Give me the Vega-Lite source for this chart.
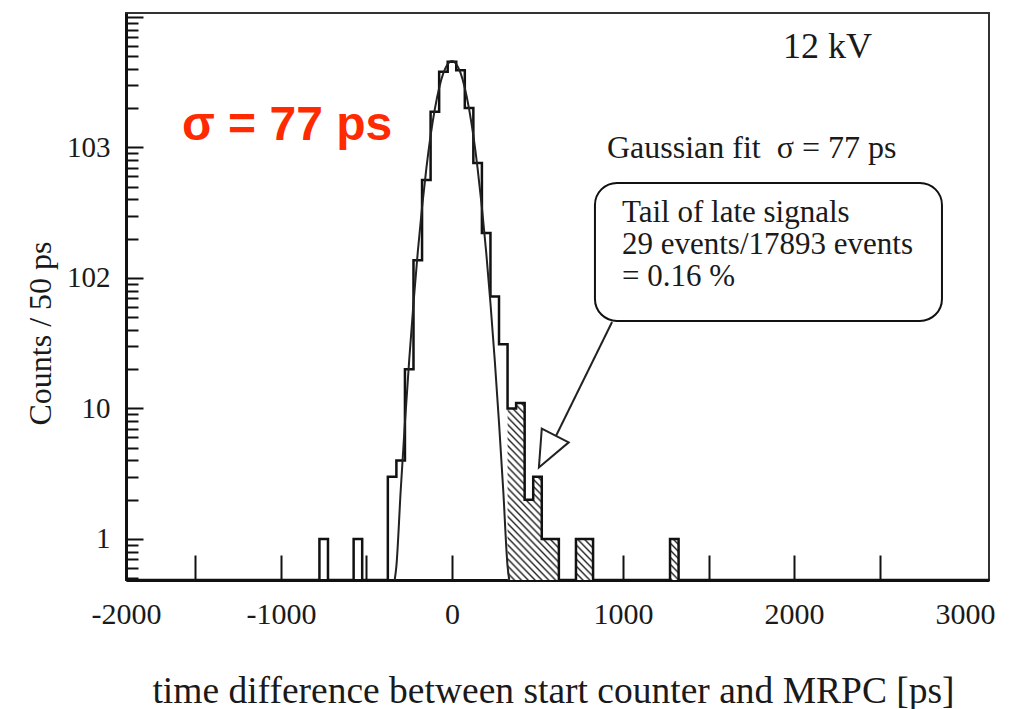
{
  "$schema": "https://vega.github.io/schema/vega-lite/v6.json",
  "autosize": "none",
  "padding": {"left": 126, "top": 13, "right": 21, "bottom": 129},
  "width": 863,
  "height": 567,
  "background": "white",
  "data": {"values": [{}]},
  "config": {"view": {"stroke": "#333", "strokeWidth": 2}, "font": "Liberation Serif"},
  "datasets": {
    "hist": [
      {"t": -1906, "count": 0}, {"t": -775, "count": 1}, {"t": -725, "count": 0},
      {"t": -575, "count": 1}, {"t": -525, "count": 0}, {"t": -375, "count": 3},
      {"t": -325, "count": 4}, {"t": -275, "count": 20}, {"t": -225, "count": 137},
      {"t": -175, "count": 564}, {"t": -125, "count": 1880}, {"t": -75, "count": 3810},
      {"t": -25, "count": 4540}, {"t": 25, "count": 3900}, {"t": 75, "count": 2010},
      {"t": 125, "count": 760}, {"t": 175, "count": 221}, {"t": 225, "count": 72},
      {"t": 275, "count": 31}, {"t": 325, "count": 10}, {"t": 375, "count": 11},
      {"t": 425, "count": 2}, {"t": 475, "count": 3}, {"t": 525, "count": 1},
      {"t": 575, "count": 1}, {"t": 625, "count": 0}, {"t": 725, "count": 1},
      {"t": 775, "count": 1}, {"t": 825, "count": 0}, {"t": 1275, "count": 1},
      {"t": 1325, "count": 0}, {"t": 3140, "count": 0}
    ],
    "tail": [
      {"t": 325, "count": 10}, {"t": 375, "count": 11}, {"t": 425, "count": 2},
      {"t": 475, "count": 3}, {"t": 525, "count": 1}, {"t": 575, "count": 1},
      {"t": 625, "count": 0}, {"t": 725, "count": 1}, {"t": 775, "count": 1},
      {"t": 825, "count": 0}, {"t": 1275, "count": 1}, {"t": 1325, "count": 0}
    ],
    "fit": [
      {"t": -335, "f": 0.42}, {"t": -325, "f": 0.62}, {"t": -300, "f": 2.33},
      {"t": -275, "f": 7.8}, {"t": -250, "f": 23.6}, {"t": -225, "f": 64},
      {"t": -200, "f": 158}, {"t": -175, "f": 348}, {"t": -150, "f": 690},
      {"t": -125, "f": 1232}, {"t": -100, "f": 1979}, {"t": -75, "f": 2862},
      {"t": -50, "f": 3726}, {"t": -25, "f": 4364}, {"t": 0, "f": 4600},
      {"t": 25, "f": 4364}, {"t": 50, "f": 3726}, {"t": 75, "f": 2862},
      {"t": 100, "f": 1979}, {"t": 125, "f": 1232}, {"t": 150, "f": 690},
      {"t": 175, "f": 348}, {"t": 200, "f": 158}, {"t": 225, "f": 64},
      {"t": 250, "f": 23.6}, {"t": 275, "f": 7.8}, {"t": 300, "f": 2.33},
      {"t": 325, "f": 0.62}, {"t": 335, "f": 0.42}
    ]
  },
  "layer": [
    {
      "data": {"name": "tail"},
      "mark": {
        "type": "area", "interpolate": "step-after", "invalid": "show",
        "fill": {
          "gradient": "linear", "x1": 0, "y1": 1, "x2": 1, "y2": 0,
          "stops": [
            {"offset": 0, "color": "#2a2a2a"}, {"offset": 0.006, "color": "#ffffff"}, {"offset": 0.014, "color": "#ffffff"},
            {"offset": 0.02, "color": "#2a2a2a"}, {"offset": 0.026, "color": "#ffffff"}, {"offset": 0.034, "color": "#ffffff"},
            {"offset": 0.04, "color": "#2a2a2a"}, {"offset": 0.046, "color": "#ffffff"}, {"offset": 0.054, "color": "#ffffff"},
            {"offset": 0.06, "color": "#2a2a2a"}, {"offset": 0.066, "color": "#ffffff"}, {"offset": 0.074, "color": "#ffffff"},
            {"offset": 0.08, "color": "#2a2a2a"}, {"offset": 0.086, "color": "#ffffff"}, {"offset": 0.094, "color": "#ffffff"},
            {"offset": 0.1, "color": "#2a2a2a"}, {"offset": 0.106, "color": "#ffffff"}, {"offset": 0.114, "color": "#ffffff"},
            {"offset": 0.12, "color": "#2a2a2a"}, {"offset": 0.126, "color": "#ffffff"}, {"offset": 0.134, "color": "#ffffff"},
            {"offset": 0.14, "color": "#2a2a2a"}, {"offset": 0.146, "color": "#ffffff"}, {"offset": 0.154, "color": "#ffffff"},
            {"offset": 0.16, "color": "#2a2a2a"}, {"offset": 0.166, "color": "#ffffff"}, {"offset": 0.174, "color": "#ffffff"},
            {"offset": 0.18, "color": "#2a2a2a"}, {"offset": 0.186, "color": "#ffffff"}, {"offset": 0.194, "color": "#ffffff"},
            {"offset": 0.2, "color": "#2a2a2a"}, {"offset": 0.206, "color": "#ffffff"}, {"offset": 0.214, "color": "#ffffff"},
            {"offset": 0.22, "color": "#2a2a2a"}, {"offset": 0.226, "color": "#ffffff"}, {"offset": 0.234, "color": "#ffffff"},
            {"offset": 0.24, "color": "#2a2a2a"}, {"offset": 0.246, "color": "#ffffff"}, {"offset": 0.254, "color": "#ffffff"},
            {"offset": 0.26, "color": "#2a2a2a"}, {"offset": 0.266, "color": "#ffffff"}, {"offset": 0.274, "color": "#ffffff"},
            {"offset": 0.28, "color": "#2a2a2a"}, {"offset": 0.286, "color": "#ffffff"}, {"offset": 0.294, "color": "#ffffff"},
            {"offset": 0.3, "color": "#2a2a2a"}, {"offset": 0.306, "color": "#ffffff"}, {"offset": 0.314, "color": "#ffffff"},
            {"offset": 0.32, "color": "#2a2a2a"}, {"offset": 0.326, "color": "#ffffff"}, {"offset": 0.334, "color": "#ffffff"},
            {"offset": 0.34, "color": "#2a2a2a"}, {"offset": 0.346, "color": "#ffffff"}, {"offset": 0.354, "color": "#ffffff"},
            {"offset": 0.36, "color": "#2a2a2a"}, {"offset": 0.366, "color": "#ffffff"}, {"offset": 0.374, "color": "#ffffff"},
            {"offset": 0.38, "color": "#2a2a2a"}, {"offset": 0.386, "color": "#ffffff"}, {"offset": 0.394, "color": "#ffffff"},
            {"offset": 0.4, "color": "#2a2a2a"}, {"offset": 0.406, "color": "#ffffff"}, {"offset": 0.414, "color": "#ffffff"},
            {"offset": 0.42, "color": "#2a2a2a"}, {"offset": 0.426, "color": "#ffffff"}, {"offset": 0.434, "color": "#ffffff"},
            {"offset": 0.44, "color": "#2a2a2a"}, {"offset": 0.446, "color": "#ffffff"}, {"offset": 0.454, "color": "#ffffff"},
            {"offset": 0.46, "color": "#2a2a2a"}, {"offset": 0.466, "color": "#ffffff"}, {"offset": 0.474, "color": "#ffffff"},
            {"offset": 0.48, "color": "#2a2a2a"}, {"offset": 0.486, "color": "#ffffff"}, {"offset": 0.494, "color": "#ffffff"},
            {"offset": 0.5, "color": "#2a2a2a"}, {"offset": 0.506, "color": "#ffffff"}, {"offset": 0.514, "color": "#ffffff"},
            {"offset": 0.52, "color": "#2a2a2a"}, {"offset": 0.526, "color": "#ffffff"}, {"offset": 0.534, "color": "#ffffff"},
            {"offset": 0.54, "color": "#2a2a2a"}, {"offset": 0.546, "color": "#ffffff"}, {"offset": 0.554, "color": "#ffffff"},
            {"offset": 0.56, "color": "#2a2a2a"}, {"offset": 0.566, "color": "#ffffff"}, {"offset": 0.574, "color": "#ffffff"},
            {"offset": 0.58, "color": "#2a2a2a"}, {"offset": 0.586, "color": "#ffffff"}, {"offset": 0.594, "color": "#ffffff"},
            {"offset": 0.6, "color": "#2a2a2a"}, {"offset": 0.606, "color": "#ffffff"}, {"offset": 0.614, "color": "#ffffff"},
            {"offset": 0.62, "color": "#2a2a2a"}, {"offset": 0.626, "color": "#ffffff"}, {"offset": 0.634, "color": "#ffffff"},
            {"offset": 0.64, "color": "#2a2a2a"}, {"offset": 0.646, "color": "#ffffff"}, {"offset": 0.654, "color": "#ffffff"},
            {"offset": 0.66, "color": "#2a2a2a"}, {"offset": 0.666, "color": "#ffffff"}, {"offset": 0.674, "color": "#ffffff"},
            {"offset": 0.68, "color": "#2a2a2a"}, {"offset": 0.686, "color": "#ffffff"}, {"offset": 0.694, "color": "#ffffff"},
            {"offset": 0.7, "color": "#2a2a2a"}, {"offset": 0.706, "color": "#ffffff"}, {"offset": 0.714, "color": "#ffffff"},
            {"offset": 0.72, "color": "#2a2a2a"}, {"offset": 0.726, "color": "#ffffff"}, {"offset": 0.734, "color": "#ffffff"},
            {"offset": 0.74, "color": "#2a2a2a"}, {"offset": 0.746, "color": "#ffffff"}, {"offset": 0.754, "color": "#ffffff"},
            {"offset": 0.76, "color": "#2a2a2a"}, {"offset": 0.766, "color": "#ffffff"}, {"offset": 0.774, "color": "#ffffff"},
            {"offset": 0.78, "color": "#2a2a2a"}, {"offset": 0.786, "color": "#ffffff"}, {"offset": 0.794, "color": "#ffffff"},
            {"offset": 0.8, "color": "#2a2a2a"}, {"offset": 0.806, "color": "#ffffff"}, {"offset": 0.814, "color": "#ffffff"},
            {"offset": 0.82, "color": "#2a2a2a"}, {"offset": 0.826, "color": "#ffffff"}, {"offset": 0.834, "color": "#ffffff"},
            {"offset": 0.84, "color": "#2a2a2a"}, {"offset": 0.846, "color": "#ffffff"}, {"offset": 0.854, "color": "#ffffff"},
            {"offset": 0.86, "color": "#2a2a2a"}, {"offset": 0.866, "color": "#ffffff"}, {"offset": 0.874, "color": "#ffffff"},
            {"offset": 0.88, "color": "#2a2a2a"}, {"offset": 0.886, "color": "#ffffff"}, {"offset": 0.894, "color": "#ffffff"},
            {"offset": 0.9, "color": "#2a2a2a"}, {"offset": 0.906, "color": "#ffffff"}, {"offset": 0.914, "color": "#ffffff"},
            {"offset": 0.92, "color": "#2a2a2a"}, {"offset": 0.926, "color": "#ffffff"}, {"offset": 0.934, "color": "#ffffff"},
            {"offset": 0.94, "color": "#2a2a2a"}, {"offset": 0.946, "color": "#ffffff"}, {"offset": 0.954, "color": "#ffffff"},
            {"offset": 0.96, "color": "#2a2a2a"}, {"offset": 0.966, "color": "#ffffff"}, {"offset": 0.974, "color": "#ffffff"},
            {"offset": 0.98, "color": "#2a2a2a"}, {"offset": 0.986, "color": "#ffffff"}, {"offset": 0.994, "color": "#ffffff"},
            {"offset": 1, "color": "#2a2a2a"}
          ]
        }
      },
      "encoding": {
        "x": {
          "field": "t", "type": "quantitative",
          "scale": {"domain": [-1906, 3140], "nice": false, "zero": false, "clamp": true},
          "axis": {
            "values": [-1906, -1500, -1000, -500, 0, 500, 1000, 1500, 2000, 2500, 3000],
            "labelExpr": "datum.value == -1906 ? '-2000' : (datum.value % 1000 == 0 ? '' + datum.value : '')",
            "tickSize": {"condition": {"test": "datum.value == -1906 || datum.value == 3000", "value": 0}, "value": -25},
            "labelPadding": {"condition": {"test": "datum.value == -1906 || datum.value == 3000", "value": 19}, "value": 44},
            "tickWidth": 2, "tickColor": "#111",
            "domainColor": "#111", "domainWidth": 3,
            "labelFont": "Liberation Serif", "labelFontSize": 30, "labelColor": "#1a1a1a",
            "labelFlush": false, "labelOverlap": false, "labelBound": false,
            "grid": false,
            "title": "time difference between start counter and MRPC [ps]",
            "titleFont": "Liberation Serif", "titleFontSize": 37.5, "titleFontWeight": "normal",
            "titleColor": "#1a1a1a", "titleX": 427, "titleY": 122, "titleBaseline": "alphabetic",
            "titleAlign": "center"
          }
        },
        "y": {
          "field": "count", "type": "quantitative",
          "scale": {"type": "log", "domain": [0.485, 10730], "nice": false, "clamp": true},
          "axis": {
            "values": [0.5, 0.6, 0.7, 0.8, 0.9, 1, 2, 3, 4, 5, 6, 7, 8, 9, 10, 20, 30, 40, 50, 60, 70, 80, 90, 100, 200, 300, 400, 500, 600, 700, 800, 900, 1000, 2000, 3000, 4000, 5000, 6000, 7000, 8000, 9000, 10000],
            "labelExpr": "datum.value == 1 ? '1' : datum.value == 10 ? '10' : datum.value == 100 ? '102' : datum.value == 1000 ? '103' : ''",
            "tickSize": {"condition": {"test": "datum.value == 1 || datum.value == 10 || datum.value == 100 || datum.value == 1000 || datum.value == 10000", "value": -17}, "value": -12},
            "labelPadding": {"condition": {"test": "datum.value == 1 || datum.value == 10 || datum.value == 100 || datum.value == 1000 || datum.value == 10000", "value": 33}, "value": 28},
            "tickWidth": 2, "tickColor": "#111",
            "domainColor": "#111", "domainWidth": 3,
            "labelFont": "Liberation Serif", "labelFontSize": 29, "labelColor": "#1a1a1a",
            "labelFlush": false, "labelOverlap": false, "labelBound": false,
            "grid": false,
            "title": "Counts / 50 ps",
            "titleFont": "Liberation Serif", "titleFontSize": 32, "titleFontWeight": "normal",
            "titleColor": "#1a1a1a", "titleX": -86, "titleY": 320, "titleBaseline": "middle",
            "titleAlign": "center", "titleAngle": -90
          }
        },
        "y2": {"datum": 0.485}
      }
    },
    {
      "data": {"name": "hist"},
      "mark": {"type": "line", "interpolate": "step-after", "color": "#111", "strokeWidth": 2.5, "invalid": "show"},
      "encoding": {
        "x": {"field": "t", "type": "quantitative", "scale": {"domain": [-1906, 3140], "nice": false, "zero": false, "clamp": true}},
        "y": {"field": "count", "type": "quantitative", "scale": {"type": "log", "domain": [0.485, 10730], "nice": false, "clamp": true}}
      }
    },
    {
      "data": {"name": "fit"},
      "mark": {"type": "line", "interpolate": "monotone", "color": "#222", "strokeWidth": 2},
      "encoding": {
        "x": {"field": "t", "type": "quantitative", "scale": {"domain": [-1906, 3140], "nice": false, "zero": false, "clamp": true}},
        "y": {"field": "f", "type": "quantitative", "scale": {"type": "log", "domain": [0.485, 10730], "nice": false, "clamp": true}}
      }
    },
    {
      "mark": {"type": "rect", "fill": "white", "fillOpacity": 0, "stroke": "#111", "strokeWidth": 2, "cornerRadius": 22},
      "encoding": {
        "x": {"datum": 836, "type": "quantitative", "scale": {"domain": [-1906, 3140], "nice": false, "zero": false, "clamp": true}},
        "x2": {"datum": 2865},
        "y": {"datum": 535, "type": "quantitative", "scale": {"type": "log", "domain": [0.485, 10730], "nice": false, "clamp": true}},
        "y2": {"datum": 46.8}
      }
    },
    {
      "mark": {"type": "rule", "stroke": "#222", "strokeWidth": 2},
      "encoding": {
        "x": {"datum": 936, "type": "quantitative", "scale": {"domain": [-1906, 3140], "nice": false, "zero": false, "clamp": true}},
        "x2": {"datum": 608},
        "y": {"datum": 46, "type": "quantitative", "scale": {"type": "log", "domain": [0.485, 10730], "nice": false, "clamp": true}},
        "y2": {"datum": 6.15}
      }
    },
    {
      "mark": {"type": "point", "shape": "M-0.42,-0.5L0.42,-0.5L0,0.5Z", "size": 5184, "angle": 27, "filled": true, "fill": "white", "stroke": "#222", "strokeWidth": 2, "opacity": 1},
      "encoding": {
        "x": {"datum": 556, "type": "quantitative", "scale": {"domain": [-1906, 3140], "nice": false, "zero": false, "clamp": true}},
        "y": {"datum": 4.68, "type": "quantitative", "scale": {"type": "log", "domain": [0.485, 10730], "nice": false, "clamp": true}}
      }
    },
    {
      "mark": {"type": "text", "text": "σ = 77 ps", "font": "Liberation Sans", "fontSize": 48, "fontWeight": "bold", "color": "#ff2a00", "align": "left", "baseline": "alphabetic"},
      "encoding": {
        "x": {"datum": -1579, "type": "quantitative", "scale": {"domain": [-1906, 3140], "nice": false, "zero": false, "clamp": true}},
        "y": {"datum": 1141, "type": "quantitative", "scale": {"type": "log", "domain": [0.485, 10730], "nice": false, "clamp": true}}
      }
    },
    {
      "mark": {"type": "text", "text": "12 kV", "font": "Liberation Serif", "fontSize": 36, "color": "#1a1a1a", "align": "left", "baseline": "alphabetic"},
      "encoding": {
        "x": {"datum": 1936, "type": "quantitative", "scale": {"domain": [-1906, 3140], "nice": false, "zero": false, "clamp": true}},
        "y": {"datum": 4850, "type": "quantitative", "scale": {"type": "log", "domain": [0.485, 10730], "nice": false, "clamp": true}}
      }
    },
    {
      "mark": {"type": "text", "text": "Gaussian fit\u00a0 σ = 77 ps", "font": "Liberation Serif", "fontSize": 32, "color": "#1a1a1a", "align": "left", "baseline": "alphabetic"},
      "encoding": {
        "x": {"datum": 906, "type": "quantitative", "scale": {"domain": [-1906, 3140], "nice": false, "zero": false, "clamp": true}},
        "y": {"datum": 831, "type": "quantitative", "scale": {"type": "log", "domain": [0.485, 10730], "nice": false, "clamp": true}}
      }
    },
    {
      "mark": {"type": "text", "text": ["Tail of late signals", "29 events/17893 events", "= 0.16 %"], "lineHeight": 32, "font": "Liberation Serif", "fontSize": 31, "color": "#1a1a1a", "align": "left", "baseline": "alphabetic"},
      "encoding": {
        "x": {"datum": 994, "type": "quantitative", "scale": {"domain": [-1906, 3140], "nice": false, "zero": false, "clamp": true}},
        "y": {"datum": 269, "type": "quantitative", "scale": {"type": "log", "domain": [0.485, 10730], "nice": false, "clamp": true}}
      }
    }
  ]
}
